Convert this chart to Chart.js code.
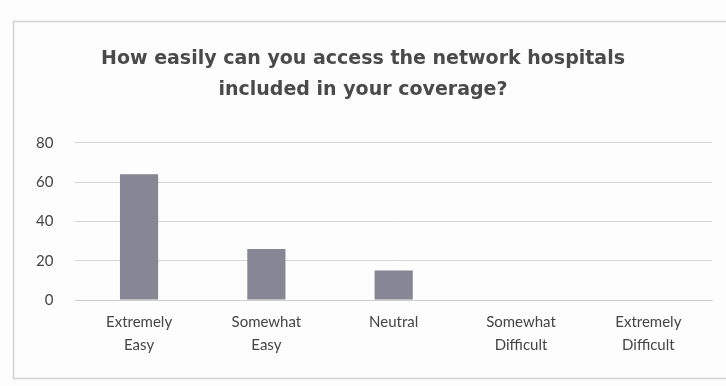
<!DOCTYPE html>
<html>
<head>
<meta charset="utf-8">
<script src="https://cdn.jsdelivr.net/npm/chart.js@4/dist/chart.umd.min.js"></script>
<style>
  html, body { margin: 0; padding: 0; background: #fdfdfd; }
  #wrap { width: 726px; height: 386px; }
</style>
</head>
<body>
<div id="wrap"><canvas id="chart"></canvas></div>
<script>
const categories = [
  ["Extremely", "Easy"],
  ["Somewhat", "Easy"],
  "Neutral",
  ["Somewhat", "Difficult"],
  ["Extremely", "Difficult"]
];
const responses = [64, 26, 15, 0, 0];
const titleLines = [
  "How easily can you access the network hospitals",
  "included in your coverage?"
];

// frame around the chart, like the printed figure
const frame = {
  id: "frame",
  beforeDraw(chart) {
    const c = chart.ctx;
    c.save();
    c.strokeStyle = "#d2d2d2";
    c.lineWidth = 1.5;
    c.strokeRect(13.5, 21.5, 740, 357);
    c.restore();
  }
};

new Chart(document.getElementById("chart"), {
  type: "bar",
  data: {
    labels: categories,
    datasets: [{
      data: responses,
      backgroundColor: "#868694",
      barPercentage: 0.3,
      categoryPercentage: 1
    }]
  },
  options: {
    responsive: true,
    maintainAspectRatio: false,
    animation: false,
    layout: { padding: { left: 14, right: 14, top: 44, bottom: 27 } },
    plugins: {
      legend: { display: false },
      tooltip: { enabled: false },
      title: {
        display: true,
        text: titleLines,
        color: "#4a4a4a",
        font: { family: "DejaVu Sans", size: 19, weight: "bold", lineHeight: 1.63 },
        padding: { top: 0, bottom: 37 }
      }
    },
    scales: {
      x: {
        grid: { display: false },
        border: { color: "#cccccc" },
        ticks: {
          color: "#454545",
          maxRotation: 0,
          autoSkip: false,
          padding: 3,
          font: { family: "Lato", size: 15, lineHeight: 1.5 }
        }
      },
      y: {
        min: 0,
        max: 80,
        border: { display: false },
        grid: { color: "#d6d6d6", drawTicks: false },
        ticks: {
          stepSize: 20,
          color: "#454545",
          padding: 22,
          font: { family: "Lato", size: 15 }
        }
      }
    }
  },
  plugins: [frame]
});
</script>
</body>
</html>
